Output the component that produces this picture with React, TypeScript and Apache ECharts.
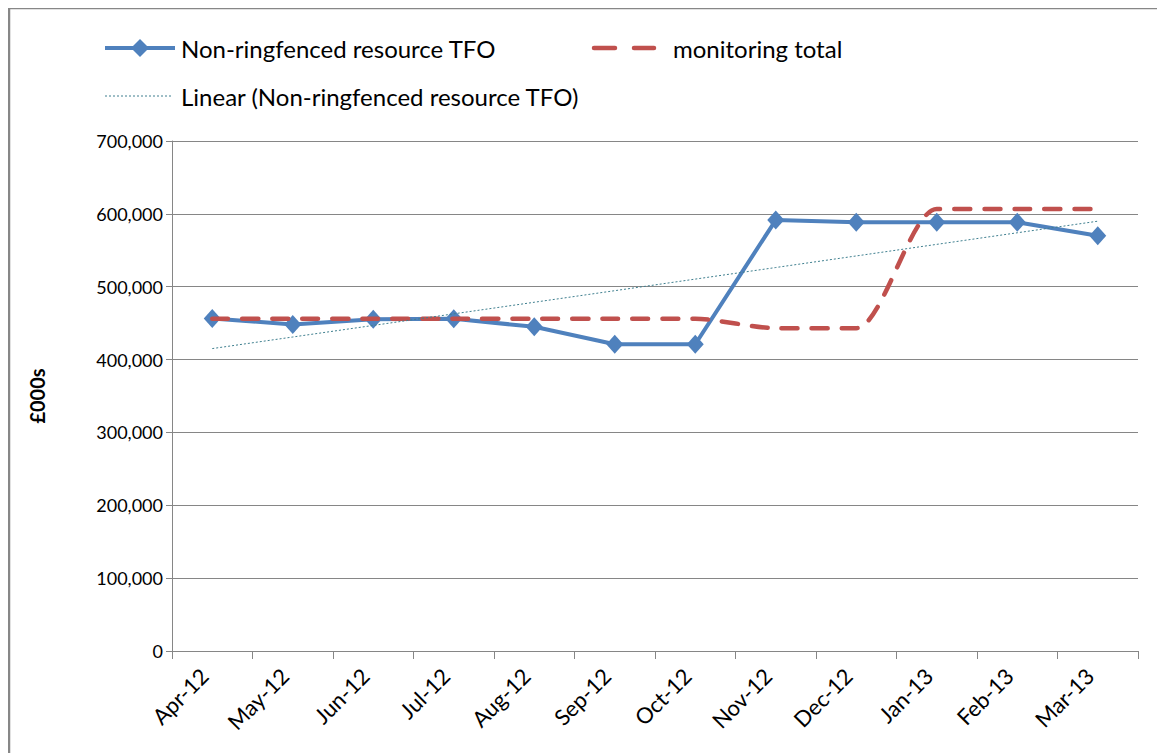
import React, { useEffect, useRef } from "react";
import * as echarts from "echarts";

const categories = ["Apr-12", "May-12", "Jun-12", "Jul-12", "Aug-12", "Sep-12", "Oct-12", "Nov-12", "Dec-12", "Jan-13", "Feb-13", "Mar-13"];
const tfo = [456500, 448000, 455500, 456000, 445000, 421000, 421000, 591500, 588500, 588500, 588500, 570000];
const monitoring = [456000, 456000, 456000, 456000, 456000, 456000, 456000, 443000, 443000, 606500, 606500, 606500];
const yTicks = [0, 100000, 200000, 300000, 400000, 500000, 600000, 700000];
const seriesNames = ["Non-ringfenced resource TFO", "monitoring total", "Linear (Non-ringfenced resource TFO)"];

function linearTrend(values: number[]): number[] {
  const n = values.length;
  const mx = (n - 1) / 2;
  const my = values.reduce((a, b) => a + b, 0) / n;
  let sxy = 0, sxx = 0;
  values.forEach((v, i) => { sxy += (i - mx) * (v - my); sxx += (i - mx) * (i - mx); });
  const slope = sxy / sxx;
  return values.map((_, i) => my + slope * (i - mx));
}
const trend = linearTrend(tfo);

const FONT = "Lato";
const BLUE = "#4F81BD";
const RED = "#C0504D";
const TEAL = "#3F7F8F";

export default function App() {
  const ref = useRef<HTMLDivElement>(null);
  useEffect(() => {
    if (!ref.current) return;
    const chart = echarts.init(ref.current, undefined, { renderer: "svg" });
    const legendFont = { fontFamily: FONT, fontSize: 24, fill: "#000" };
    chart.setOption({
      animation: false,
      backgroundColor: "#fff",
      textStyle: { fontFamily: FONT },
      graphic: [
        { type: "rect", shape: { x: 1, y: 0, width: 1300, height: 900 }, style: { fill: "none", stroke: "#878787", lineWidth: 2.5 }, silent: true, z: -1 },
        // legend item 1
        { type: "line", shape: { x1: 97, y1: 40, x2: 167, y2: 40 }, style: { stroke: BLUE, lineWidth: 4 }, silent: true },
        { type: "polygon", shape: { points: [[132, 31], [141, 40], [132, 49], [123, 40]] }, style: { fill: BLUE }, silent: true },
        { type: "text", x: 173, y: 40, style: { text: seriesNames[0], ...legendFont, verticalAlign: "middle" }, silent: true },
        // legend item 2
        { type: "line", shape: { x1: 586, y1: 40, x2: 607, y2: 40 }, style: { stroke: RED, lineWidth: 4.5, lineCap: "round" }, silent: true },
        { type: "line", shape: { x1: 626, y1: 40, x2: 646, y2: 40 }, style: { stroke: RED, lineWidth: 4.5, lineCap: "round" }, silent: true },
        { type: "text", x: 665, y: 40, style: { text: seriesNames[1], ...legendFont, verticalAlign: "middle" }, silent: true },
        // legend item 3
        { type: "line", shape: { x1: 97, y1: 88, x2: 165, y2: 88 }, style: { stroke: TEAL, lineWidth: 1, lineDash: [2, 2] }, silent: true },
        { type: "text", x: 173, y: 88, style: { text: seriesNames[2], ...legendFont, verticalAlign: "middle" }, silent: true },
      ],
      grid: { left: 164, right: 27, top: 133, bottom: 102 },
      xAxis: {
        type: "category",
        data: categories,
        boundaryGap: true,
        axisLine: { lineStyle: { color: "#868686", width: 1 } },
        axisTick: { show: true, length: 8, alignWithLabel: false, lineStyle: { color: "#868686" } },
        axisLabel: {
          rotate: 45, fontFamily: FONT, fontSize: 22, color: "#000", margin: 13, interval: 0,
          formatter: (v: string) => v + "  ",
        },
        splitLine: { show: false },
      },
      yAxis: {
        type: "value",
        min: 0,
        max: 700000,
        interval: 100000,
        name: "£000s",
        nameLocation: "middle",
        nameGap: 125,
        nameRotate: 90,
        nameTextStyle: { fontFamily: FONT, fontSize: 20, fontWeight: "bold", color: "#000" },
        axisLine: { show: true, lineStyle: { color: "#868686", width: 1 } },
        axisTick: { show: true, length: 6, lineStyle: { color: "#868686" } },
        axisLabel: {
          fontFamily: FONT, fontSize: 18, color: "#000", margin: 9,
          formatter: (v: number) => (yTicks.includes(v) ? v.toLocaleString("en-GB") : ""),
        },
        splitLine: { show: true, lineStyle: { color: "#868686", width: 1 } },
      },
      series: [
        {
          name: seriesNames[0],
          type: "line",
          data: tfo,
          symbol: "diamond",
          symbolSize: [17, 19],
          itemStyle: { color: BLUE },
          lineStyle: { color: BLUE, width: 4 },
          z: 2,
        },
        {
          name: seriesNames[1],
          type: "line",
          data: monitoring,
          symbol: "none",
          smooth: 0.25,
          itemStyle: { color: RED },
          lineStyle: { color: RED, width: 4.5, type: [16, 14], cap: "round" },
          z: 3,
        },
        {
          name: seriesNames[2],
          type: "line",
          data: trend,
          symbol: "none",
          itemStyle: { color: TEAL },
          lineStyle: { color: TEAL, width: 1, type: [2, 2] },
          z: 4,
        },
      ],
    });
    return () => chart.dispose();
  }, []);
  return <div ref={ref} style={{ width: 1157, height: 745 }} />;
}
